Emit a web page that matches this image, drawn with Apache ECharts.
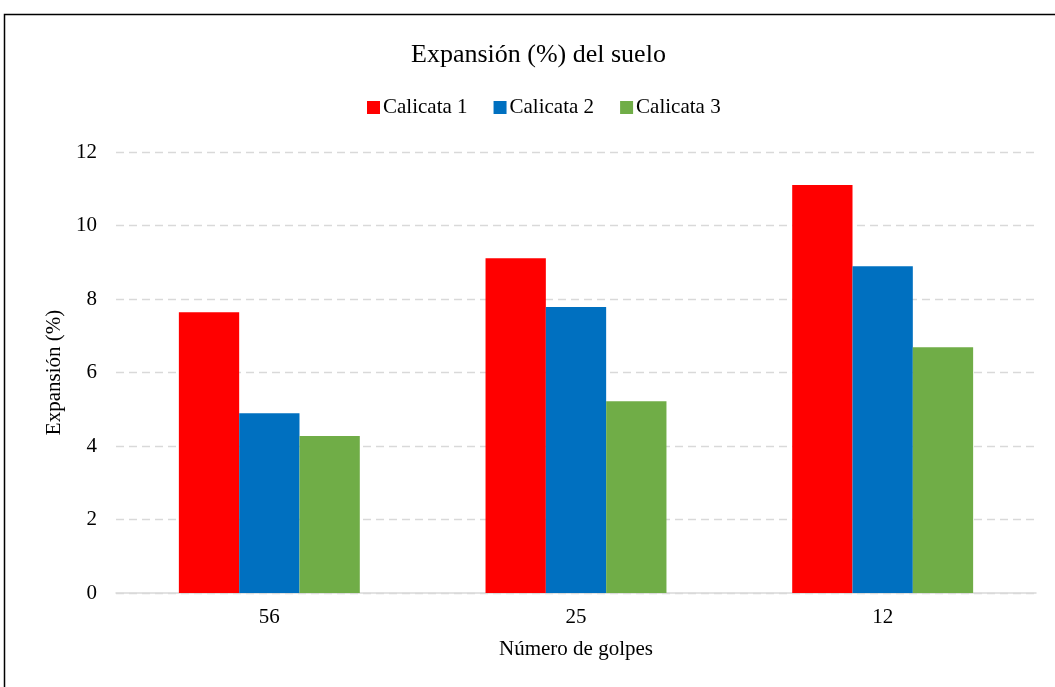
<!DOCTYPE html>
<html>
<head>
<meta charset="utf-8">
<script src="https://cdn.jsdelivr.net/npm/echarts@6/dist/echarts.min.js"></script>
<style>
html,body{margin:0;padding:0;background:#fff;}
#chart{width:1055px;height:687px;}
</style>
</head>
<body>
<div id="chart"></div>
<script>
var categories = ['56', '25', '12'];
var seriesNames = ['Calicata 1', 'Calicata 2', 'Calicata 3'];
var calicata1 = [7.64, 9.11, 11.10];
var calicata2 = [4.89, 7.78, 8.89];
var calicata3 = [4.27, 5.22, 6.69];
var colors = ['#ff0000', '#0070c0', '#70ad47'];
var yTicks = [0, 2, 4, 6, 8, 10, 12];

var font = '"Liberation Serif", "Times New Roman", serif';
var chart = echarts.init(document.getElementById('chart'), null, {renderer: 'canvas'});
var dataSets = [calicata1, calicata2, calicata3];
chart.setOption({
  animation: false,
  backgroundColor: '#fff',
  graphic: [{
    type: 'rect',
    shape: {x: 4.5, y: 14.5, width: 1100, height: 700},
    style: {fill: 'none', stroke: '#000', lineWidth: 1.5},
    silent: true
  }],
  title: {
    text: 'Expansión (%) del suelo',
    left: 406,
    top: 37,
    textStyle: {fontFamily: font, fontSize: 26, fontWeight: 'normal', color: '#000'}
  },
  legend: {
    top: 92,
    left: 362,
    itemWidth: 13,
    itemHeight: 13,
    itemGap: 26,
    icon: 'rect',
    textStyle: {fontFamily: font, fontSize: 21, color: '#000', padding: [0, 0, 0, -2]},
    data: seriesNames
  },
  grid: {left: 116, right: 19, top: 152, bottom: 94, containLabel: false},
  xAxis: {
    type: 'category',
    data: categories,
    name: 'Número de golpes',
    nameLocation: 'middle',
    nameGap: 46,
    nameTextStyle: {fontFamily: font, fontSize: 21, color: '#000'},
    axisLine: {lineStyle: {color: '#d9d9d9', width: 1.5}},
    axisTick: {show: false},
    axisLabel: {fontFamily: font, fontSize: 21, color: '#000', margin: 14}
  },
  yAxis: {
    type: 'value',
    min: 0,
    max: 12,
    interval: 2,
    name: 'Expansión (%)',
    nameLocation: 'middle',
    nameGap: 49,
    nameRotate: 90,
    nameTextStyle: {fontFamily: font, fontSize: 21, color: '#000'},
    axisLine: {show: false},
    axisTick: {show: false},
    axisLabel: {fontFamily: font, fontSize: 21, color: '#000', margin: 19,
      formatter: function (v) { return yTicks.indexOf(v) >= 0 ? String(v) : ''; }},
    splitLine: {lineStyle: {color: '#d9d9d9', type: [8, 5], width: 1.3}}
  },
  series: seriesNames.map(function (n, i) {
    return {
      name: n,
      type: 'bar',
      data: dataSets[i],
      itemStyle: {color: colors[i]},
      barGap: '0%',
      barCategoryGap: '41%'
    };
  })
});
</script>
</body>
</html>
